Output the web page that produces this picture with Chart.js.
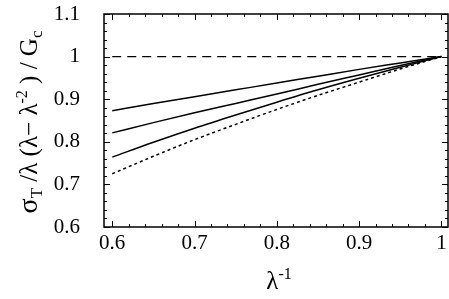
<!DOCTYPE html>
<html>
<head>
<meta charset="utf-8">
<script src="https://cdn.jsdelivr.net/npm/chart.js@4.4.0/dist/chart.umd.min.js"></script>
<style>
  html, body { margin: 0; padding: 0; background: #fff; }
</style>
</head>
<body>
<canvas id="chart" width="449" height="299"></canvas>
<script>
// data
const lambdaInv = [0.6, 0.65, 0.7, 0.75, 0.8, 0.85, 0.9, 0.95, 1.0];
const curveTop = [0.873, 0.890, 0.906, 0.922, 0.938, 0.954, 0.970, 0.985, 1.0];
const curveMid = [0.821, 0.845, 0.868, 0.890, 0.912, 0.935, 0.957, 0.979, 1.0];
const curveLow = [0.764, 0.799, 0.832, 0.863, 0.893, 0.922, 0.949, 0.975, 1.0];
const curveLimit = [0.725, 0.766, 0.805, 0.841, 0.876, 0.909, 0.940, 0.971, 1.0];
const refX = [0.6, 1.0];
const refY = [1.0, 1.0];

const xTicks = [0.6, 0.7, 0.8, 0.9, 1.0];
const yTicks = [0.6, 0.7, 0.8, 0.9, 1.0, 1.1];

const FONT = "'Liberation Serif', 'DejaVu Serif', serif";

const toPoints = (xs, ys) => xs.map((x, i) => ({ x, y: ys[i] }));

function lineSet(ys, dash) {
    return {
        data: toPoints(lambdaInv, ys),
        borderColor: '#000',
        borderWidth: 1.5,
        borderDash: dash,
        pointRadius: 0,
        fill: false,
        cubicInterpolationMode: 'monotone'
    };
}

// frame with inward ticks on all four sides
const framePlugin = {
    id: 'frame',
    afterDatasetsDraw(chart) {
        const { ctx, chartArea: a, scales: { x, y } } = chart;
        ctx.save();
        ctx.strokeStyle = '#000';
        ctx.lineWidth = 1.5;
        ctx.strokeRect(a.left, a.top, a.right - a.left, a.bottom - a.top);
        ctx.lineWidth = 1;
        ctx.beginPath();
        for (let i = 0; i <= 20; i++) {
            const v = 0.6 + i * 0.02;
            const px = Math.round(x.getPixelForValue(v)) + 0.5;
            const len = i % 5 === 0 ? 6 : 3;
            ctx.moveTo(px, a.bottom); ctx.lineTo(px, a.bottom - len);
            ctx.moveTo(px, a.top); ctx.lineTo(px, a.top + len);
        }
        for (let i = 0; i <= 25; i++) {
            const v = 0.6 + i * 0.02;
            const py = Math.round(y.getPixelForValue(v)) + 0.5;
            const len = i % 5 === 0 ? 6 : 3;
            ctx.moveTo(a.left, py); ctx.lineTo(a.left + len, py);
            ctx.moveTo(a.right, py); ctx.lineTo(a.right - len, py);
        }
        ctx.stroke();
        ctx.restore();
    }
};

// axis titles with sub/superscripts
function drawRich(ctx, parts, cx, baseline) {
    let total = 0;
    parts.forEach(p => {
        ctx.font = p.size + 'px ' + FONT;
        p.w = ctx.measureText(p.t).width;
        total += p.w;
    });
    let xPos = cx - total / 2;
    parts.forEach(p => {
        ctx.font = p.size + 'px ' + FONT;
        ctx.fillText(p.t, xPos, baseline + (p.dy || 0));
        xPos += p.w;
    });
}

const titlePlugin = {
    id: 'titles',
    afterDraw(chart) {
        const { ctx } = chart;
        ctx.save();
        ctx.fillStyle = '#000';
        ctx.textBaseline = 'alphabetic';
        ctx.textAlign = 'left';
        drawRich(ctx, [
            { t: 'λ', size: 25 },
            { t: '-1', size: 16, dy: -10 }
        ], 279, 289);

        ctx.translate(37, 122);
        ctx.rotate(-Math.PI / 2);
        drawRich(ctx, [
            { t: 'σ', size: 28 },
            { t: 'T', size: 17, dy: 5 },
            { t: ' /', size: 25 },
            { t: 'λ (λ', size: 25 },
            { t: '− λ', size: 25 },
            { t: '-2', size: 16, dy: -10 },
            { t: ' ) / G', size: 25 },
            { t: 'c', size: 17, dy: 5 }
        ], 0, 0);
        ctx.restore();
    }
};

const fmt = v => String(+Number(v).toFixed(1));

const noOverhang = s => {
    s.paddingTop = 0; s.paddingBottom = 0;
    s.paddingLeft = 0; s.paddingRight = 0;
};

new Chart(document.getElementById('chart'), {
    type: 'line',
    data: {
        datasets: [
            { data: toPoints(refX, refY), borderColor: '#000', borderWidth: 1.2, borderDash: [9, 6], pointRadius: 0, fill: false },
            lineSet(curveTop, []),
            lineSet(curveMid, []),
            lineSet(curveLow, []),
            lineSet(curveLimit, [3, 3])
        ]
    },
    options: {
        responsive: false,
        animation: false,
        devicePixelRatio: 1,
        layout: { padding: { top: 14, right: 1, left: 0, bottom: 0 } },
        plugins: { legend: { display: false }, tooltip: { enabled: false } },
        scales: {
            x: {
                type: 'linear',
                min: 0.59,
                max: 1.008,
                border: { display: false },
                grid: { display: false, drawTicks: false },
                afterBuildTicks: s => { s.ticks = xTicks.map(v => ({ value: v })); },
                afterFit: s => { s.height = 72; noOverhang(s); },
                ticks: { color: '#000', padding: 4, maxRotation: 0, font: { family: FONT, size: 21 }, callback: fmt }
            },
            y: {
                type: 'linear',
                min: 0.6,
                max: 1.1,
                border: { display: false },
                grid: { display: false, drawTicks: false },
                afterBuildTicks: s => { s.ticks = yTicks.map(v => ({ value: v })); },
                afterFit: s => { s.width = 104; noOverhang(s); },
                ticks: { color: '#000', padding: 24, font: { family: FONT, size: 21 }, callback: fmt }
            }
        }
    },
    plugins: [framePlugin, titlePlugin]
});
</script>
</body>
</html>
